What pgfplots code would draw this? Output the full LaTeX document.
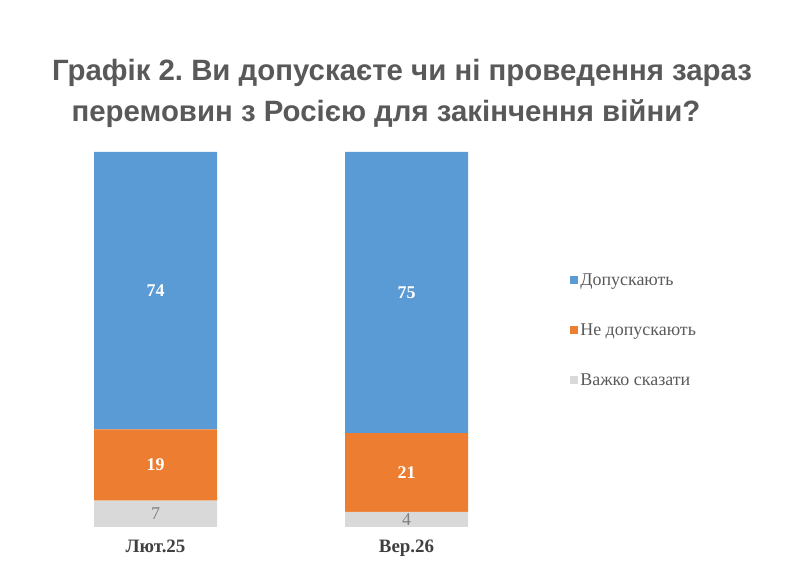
\documentclass[border=0pt]{standalone}
\usepackage{pgfplots}
\pgfplotsset{compat=1.18}
\usepackage{fontspec}
\setmainfont{Liberation Serif}
\newfontfamily\titlefont{Liberation Sans}
\frenchspacing

\definecolor{cblue}{HTML}{5B9BD5}
\definecolor{corange}{HTML}{ED7D31}
\definecolor{cgray}{HTML}{D9D9D9}
\definecolor{titlegray}{HTML}{595959}
\definecolor{labgray}{HTML}{7F7F7F}
\definecolor{textdark}{HTML}{404040}

\begin{document}
\begin{tikzpicture}
\useasboundingbox (0bp,0bp) rectangle (800bp,573bp);

% Title, two centred lines
\node[anchor=base, font=\titlefont\bfseries\fontsize{29.5}{33}\selectfont, text=titlegray]
  at (402bp,492bp) {Графік 2. Ви допускаєте чи ні проведення зараз};
\node[anchor=base, font=\titlefont\bfseries\fontsize{29.5}{33}\selectfont, text=titlegray]
  at (386bp,451bp) {перемовин з Росією для закінчення війни?};

\begin{axis}[
  at={(30bp,46bp)}, anchor=south west,
  scale only axis, width=502bp, height=375bp,
  xmin=-0.5, xmax=1.5, ymin=0, ymax=100,
  ybar stacked, bar width=123bp,
  axis line style={draw=none}, tick style={draw=none},
  ytick=\empty,
  xtick={0,1}, xticklabels={Лют.25, Вер.26},
  xticklabel style={font=\bfseries\fontsize{19}{19}\selectfont, text=textdark, yshift=-9bp},
  /pgf/number format/assume math mode=true,
  point meta=rawy,
  legend image code/.code={\fill[#1,draw=none] (0bp,-4bp) rectangle (8bp,4bp);},
  reverse legend,
  legend cell align=left,
  legend style={draw=none, fill=none, at={(1.076,0.525)}, anchor=west,
    font=\fontsize{18}{18}\selectfont, text=titlegray,
    row sep=33bp, inner sep=0pt},
]
% segments stack from the bottom: hard to say, against, for
\addplot[fill=cgray, draw=none,
  nodes near coords={\fontsize{18}{18}\selectfont\color{labgray}\pgfmathprintnumber{\pgfplotspointmeta}}]
  coordinates {(0,7) (1,4)};
\addplot[fill=corange, draw=none,
  nodes near coords={\fontsize{18}{18}\selectfont\bfseries\color{white}\pgfmathprintnumber{\pgfplotspointmeta}}]
  coordinates {(0,19) (1,21)};
\addplot[fill=cblue, draw=none,
  nodes near coords={\fontsize{18}{18}\selectfont\bfseries\color{white}\pgfmathprintnumber{\pgfplotspointmeta}}]
  coordinates {(0,74) (1,75)};
\legend{Важко сказати, Не допускають, Допускають}
\end{axis}
\end{tikzpicture}
\end{document}
